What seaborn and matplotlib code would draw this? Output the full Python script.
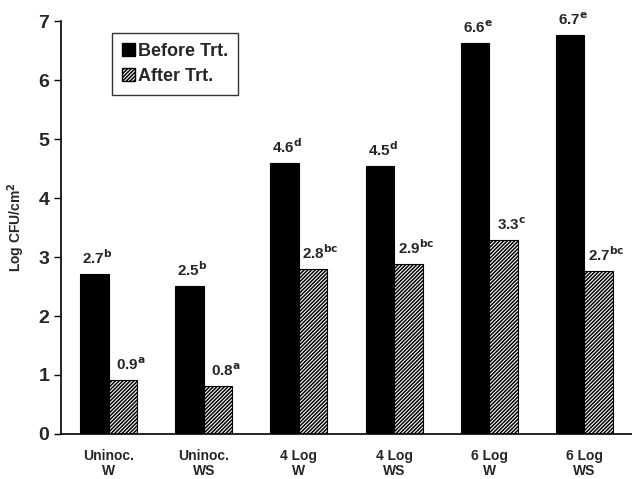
import pandas as pd
import matplotlib.pyplot as plt
import seaborn as sns
from matplotlib.patches import Patch

# Data
groups = ["Uninoc.\nW", "Uninoc.\nWS", "4 Log\nW", "4 Log\nWS", "6 Log\nW", "6 Log\nWS"]
before = [2.71, 2.51, 4.6, 4.55, 6.63, 6.76]
after = [0.91, 0.82, 2.79, 2.88, 3.29, 2.77]
before_labels = ["2.7", "2.5", "4.6", "4.5", "6.6", "6.7"]
after_labels = ["0.9", "0.8", "2.8", "2.9", "3.3", "2.7"]
before_sup = ["b", "b", "d", "d", "e", "e"]
after_sup = ["a", "a", "bc", "bc", "c", "bc"]

df = pd.DataFrame({
    "group": groups * 2,
    "value": before + after,
    "time": ["Before Trt."] * 6 + ["After Trt."] * 6,
})

sns.set_style("white")
plt.rcParams["font.family"] = ["Liberation Sans", "DejaVu Sans"]
plt.rcParams["hatch.linewidth"] = 1.1

fig = plt.figure(figsize=(6.32, 4.79), dpi=100)
ax = fig.add_axes([0.0965, 0.094, 0.9035, 0.862])

sns.barplot(data=df, x="group", y="value", hue="time", order=groups,
            hue_order=["Before Trt.", "After Trt."],
            palette=["black", "white"], width=0.6, edgecolor="black",
            linewidth=0.8, legend=False, ax=ax)

for bar in ax.containers[1]:
    bar.set_hatch("/////////")

# value labels with superscript letters
for i, bar in enumerate(ax.containers[0]):
    x = bar.get_x() + bar.get_width() / 2
    ax.text(x + 0.03, bar.get_height() + 0.12, f"{before_labels[i]}$^{{\\mathbf{{{before_sup[i]}}}}}$",
            ha="center", va="bottom", fontsize=11, fontweight="bold")
for i, bar in enumerate(ax.containers[1]):
    x = bar.get_x() + bar.get_width() / 2
    ax.text(x + 0.08, bar.get_height() + 0.12, f"{after_labels[i]}$^{{\\mathbf{{{after_sup[i]}}}}}$",
            ha="center", va="bottom", fontsize=11, fontweight="bold")

ax.set_xlim(-0.5, 5.5)
ax.set_ylim(0, 7)
ax.set_yticks(range(8))
ax.set_yticklabels([str(v) for v in range(8)], fontsize=14, fontweight="bold")
ax.set_xticks(range(6))
ax.set_xticklabels(groups, fontsize=10, fontweight="bold", linespacing=1.05)
ax.set_xticks([0.5, 1.5, 2.5, 3.5, 4.5], minor=True)
ax.tick_params(axis="x", which="major", length=0, pad=11)
ax.tick_params(axis="x", which="minor", length=4, width=1, direction="out", color="black")
ax.tick_params(axis="y", length=5, width=1, direction="out", color="black", left=True)
ax.set_xlabel("")
ax.set_ylabel("Log CFU/cm$^\\mathbf{2}$", fontsize=10, fontweight="bold", labelpad=8)

sns.despine(ax=ax, top=True, right=True)
for side in ["left", "bottom"]:
    ax.spines[side].set_color("black")
    ax.spines[side].set_linewidth(1.2)

handles = [Patch(facecolor="black", edgecolor="black", label="Before Trt."),
           Patch(facecolor="white", edgecolor="black", hatch="/////////", label="After Trt.")]
leg = ax.legend(handles=handles, loc="upper left", bbox_to_anchor=(0.089, 0.971),
                borderaxespad=0, prop={"weight": "bold", "size": 13}, frameon=True,
                fancybox=False, handlelength=0.75, handleheight=0.75, handletextpad=0.15,
                borderpad=0.55, labelspacing=0.45)
leg.get_frame().set_edgecolor("black")
leg.get_frame().set_linewidth(1)

plt.savefig("out.png", dpi=100)
